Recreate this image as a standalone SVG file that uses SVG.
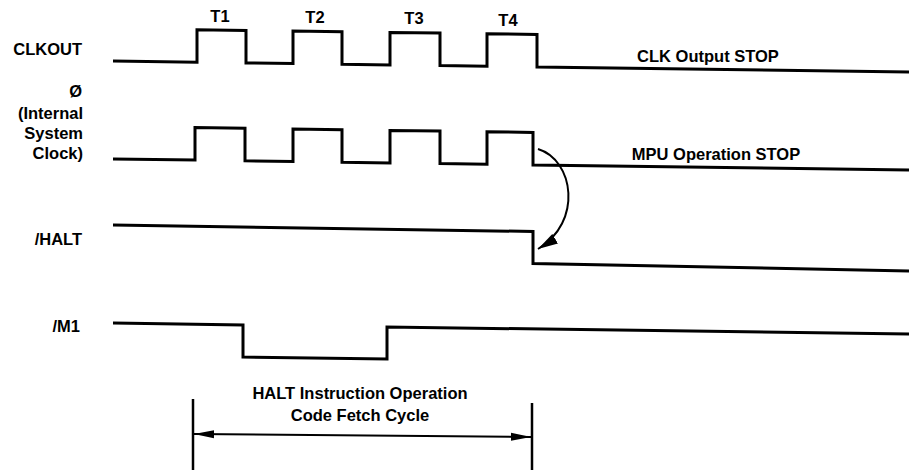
<svg xmlns="http://www.w3.org/2000/svg" width="909" height="470" viewBox="0 0 909 470">
<defs>
<style>
.lbl{font-family:"Liberation Sans",Arial,sans-serif;font-weight:bold;font-size:16.5px;fill:#000}
.wave{fill:none;stroke:#000;stroke-width:3;stroke-linejoin:miter}
.thin{fill:none;stroke:#000;stroke-width:2}
</style>
<marker id="ah" viewBox="0 0 20 10" refX="20" refY="5" markerWidth="20" markerHeight="10" markerUnits="userSpaceOnUse" orient="auto-start-reverse">
<path d="M0,1 L20,5 L0,9 Z" fill="#000"/>
</marker>
<marker id="ah2" viewBox="0 0 20 12" refX="20" refY="6" markerWidth="20" markerHeight="12" markerUnits="userSpaceOnUse" orient="auto">
<path d="M0,0.5 L20,6 L0,11.5 Z" fill="#000"/>
</marker>
</defs>
<rect width="909" height="470" fill="#fff"/>
<g id="labels">
<text class="lbl" x="82" y="55" text-anchor="end">CLKOUT</text>
<text class="lbl" x="82" y="97" text-anchor="end">Ø</text>
<text class="lbl" x="83" y="119" text-anchor="end">(Internal</text>
<text class="lbl" x="83" y="139" text-anchor="end">System</text>
<text class="lbl" x="83" y="159" text-anchor="end">Clock)</text>
<text class="lbl" x="82" y="245" text-anchor="end">/HALT</text>
<text class="lbl" x="80" y="332" text-anchor="end">/M1</text>
<text class="lbl" x="220" y="22" text-anchor="middle">T1</text>
<text class="lbl" x="315" y="23" text-anchor="middle">T2</text>
<text class="lbl" x="414" y="24" text-anchor="middle">T3</text>
<text class="lbl" x="508" y="26" text-anchor="middle">T4</text>
<text class="lbl" x="708" y="62" text-anchor="middle">CLK Output STOP</text>
<text class="lbl" x="716" y="160" text-anchor="middle">MPU Operation STOP</text>
<text class="lbl" x="360" y="399" text-anchor="middle">HALT Instruction Operation</text>
<text class="lbl" x="360" y="421" text-anchor="middle">Code Fetch Cycle</text>
</g>
<g id="clkout">
<path class="wave" d="M113,61 L197,62.2 L197,29.7 L246,30.4 L246,62.9 L293,63.5 L293,31 L342,31.7 L342,64.2 L390,64.9 L390,32.4 L440,33.1 L440,65.6 L487,66.2 L487,33.7 L537,34.4 L537,66.9 L909,72.1"/>
</g>
<g id="phi">
<path class="wave" d="M113,159 L195,160.1 L195,127.6 L245,128.3 L245,160.8 L293,161.5 L293,129 L342,129.7 L342,162.2 L390,162.9 L390,130.4 L440,131.1 L440,163.6 L487,164.2 L487,131.7 L533,132.4 L533,164.9 L909,170.1"/>
</g>
<g id="halt">
<path class="wave" d="M113,225 L533,231.5 L533,263.5 L909,271"/>
</g>
<g id="m1">
<path class="wave" d="M113,323 L243,325 L243,357 L387,359 L387,327 L909,334"/>
</g>
<g id="connectors">
<path class="thin" stroke-width="1.8" d="M538,149 C574,160 583,222 538,249" marker-end="url(#ah2)"/>
<line x1="193" y1="399" x2="193" y2="470" stroke="#000" stroke-width="2.5"/>
<line x1="532" y1="403" x2="532" y2="470" stroke="#000" stroke-width="2.5"/>
<line class="thin" x1="194" y1="434" x2="531" y2="437" marker-start="url(#ah)" marker-end="url(#ah)"/>
</g>
</svg>
